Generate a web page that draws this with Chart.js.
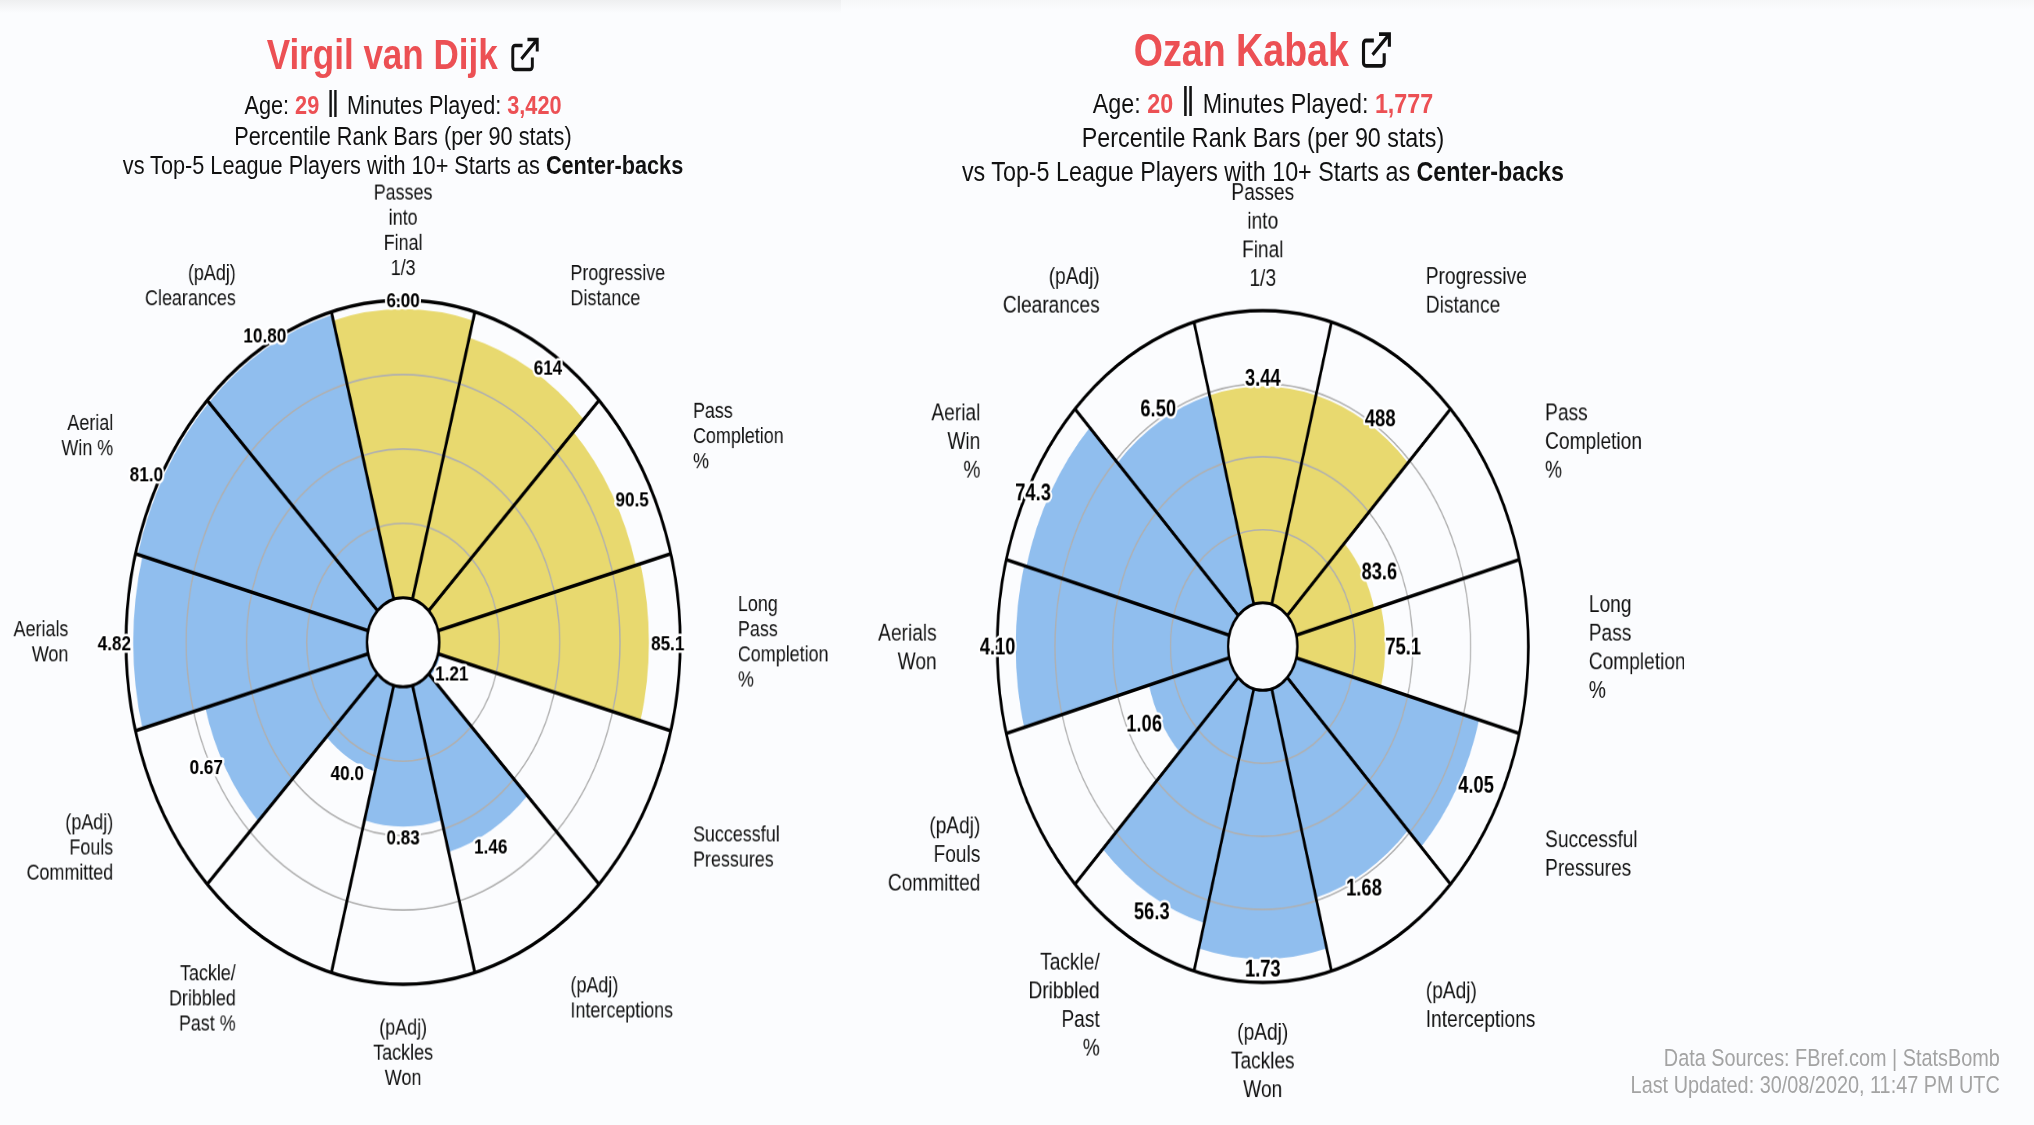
<!DOCTYPE html>
<html>
<head>
<meta charset="utf-8">
<title>Percentile Rank Bars</title>
<script src="https://cdn.jsdelivr.net/npm/chart.js@4"></script>
<style>
html, body { margin: 0; width: 2034px; height: 1125px; overflow: hidden; background: #fbfcfe; }
body { position: relative; font-family: "Liberation Sans", Arial, sans-serif; color: #111; }
canvas { position: absolute; transform-origin: 0 0; filter: blur(.4px); }
.topband { position: absolute; left: 0; top: 0; width: 841px; height: 13px; background: linear-gradient(#eeeff0, #fbfcfe); }
.topband.rest { left: 841px; width: 1193px; height: 10px; background: linear-gradient(#f6f7f8, #fbfcfe); }
.line { position: absolute; white-space: nowrap; transform: translate(-50%, -50%) scaleX(var(--sx)); filter: blur(.3px); }
.red { color: #ec5054; }
.bars { font-size: 1.4em; line-height: 1; vertical-align: -3px; margin: 0 2px; }
.title { font-weight: bold; color: #ec5054; display: flex; align-items: center; gap: 15px; }
.title svg { display: block; }
.foot { position: absolute; right: 34px; text-align: right; white-space: nowrap; color: #a3a3a3; font-size: 24.5px; transform-origin: 100% 50%; transform: translateY(-50%) scaleX(.81); filter: blur(.3px); }
</style>
</head>
<body>
<div class="topband"></div>
<div class="topband rest"></div>

<div class="line title" style="--sx:.815;left:403px;top:54px;font-size:43px">Virgil van Dijk
  <svg width="36" height="36" viewBox="0 0 24 24" fill="none" stroke="#111" stroke-width="2.4"><path d="M18 14v6a2 2 0 0 1-2 2H4a2 2 0 0 1-2-2V8a2 2 0 0 1 2-2h6"/><path d="M9 15 21 3M14 2h8v8"/></svg>
</div>
<div class="line" style="--sx:.815;left:403px;top:105px;font-size:26.6px">Age: <b class="red">29</b> <span class="bars">‖</span> Minutes Played: <b class="red">3,420</b></div>
<div class="line" style="--sx:.815;left:403px;top:136px;font-size:26.6px">Percentile Rank Bars (per 90 stats)</div>
<div class="line" style="--sx:.815;left:403px;top:165px;font-size:26.6px">vs Top-5 League Players with 10+ Starts as <b>Center-backs</b></div>

<div class="line title" style="--sx:.817;left:1263px;top:50px;font-size:46px">Ozan Kabak
  <svg width="38" height="38" viewBox="0 0 24 24" fill="none" stroke="#111" stroke-width="2.4"><path d="M18 14v6a2 2 0 0 1-2 2H4a2 2 0 0 1-2-2V8a2 2 0 0 1 2-2h6"/><path d="M9 15 21 3M14 2h8v8"/></svg>
</div>
<div class="line" style="--sx:.817;left:1263px;top:103px;font-size:28.5px">Age: <b class="red">20</b> <span class="bars">‖</span> Minutes Played: <b class="red">1,777</b></div>
<div class="line" style="--sx:.817;left:1263px;top:137px;font-size:28.5px">Percentile Rank Bars (per 90 stats)</div>
<div class="line" style="--sx:.817;left:1263px;top:171px;font-size:28.5px">vs Top-5 League Players with 10+ Starts as <b>Center-backs</b></div>

<canvas id="vvdChart" width="1080" height="1080"></canvas>
<canvas id="kabakChart" width="1080" height="1080"></canvas>

<div class="foot" style="top:1058px">Data Sources: FBref.com | StatsBomb</div>
<div class="foot" style="top:1085px">Last Updated: 30/08/2020, 11:47 PM UTC</div>

<script>
// ---------------- DATA ----------------

const vvdLabels = [
    ["Passes", "into", "Final", "1/3"],
    ["Progressive", "Distance"],
    ["Pass", "Completion", "%"],
    ["Long", "Pass", "Completion", "%"],
    ["Successful", "Pressures"],
    ["(pAdj)", "Interceptions"],
    ["(pAdj)", "Tackles", "Won"],
    ["Tackle/", "Dribbled", "Past %"],
    ["(pAdj)", "Fouls", "Committed"],
    ["Aerials", "Won"],
    ["Aerial", "Win %"],
    ["(pAdj)", "Clearances"]
];
const vvdPercentiles = [97, 91, 85, 87, 1, 58, 47, 30, 70, 97, 99, 99];
const vvdValues = ["6.00", "614", "90.5", "85.1", "1.21", "1.46", "0.83", "40.0", "0.67", "4.82", "81.0", "10.80"];

const kabakLabels = [
    ["Passes", "into", "Final", "1/3"],
    ["Progressive", "Distance"],
    ["Pass", "Completion", "%"],
    ["Long", "Pass", "Completion", "%"],
    ["Successful", "Pressures"],
    ["(pAdj)", "Interceptions"],
    ["(pAdj)", "Tackles", "Won"],
    ["Tackle/", "Dribbled", "Past", "%"],
    ["(pAdj)", "Fouls", "Committed"],
    ["Aerials", "Won"],
    ["Aerial", "Win", "%"],
    ["(pAdj)", "Clearances"]
];
const kabakPercentiles = [74, 74, 35, 38, 82, 74, 92, 83, 36, 92, 91, 74];
const kabakValues = ["3.44", "488", "83.6", "75.1", "4.05", "1.68", "1.73", "56.3", "1.06", "4.10", "74.3", "6.50"];

const gridTicks = [25, 50, 75, 100];
const passingCount = 4; // first four wedges are the passing stats

// value text does not sit exactly on the wedge centre in the original
const valueNudgeDeg = [0, 3, 3, 0, -3, 2, 0, -2, 3, 0, -2, 1];

const YELLOW = "#e8d96f";
const BLUE = "#90beee";
const PAGE_BG = "#fbfcfe";
const HOLE_MIN = -15; // leaves the white hole in the middle

// ---------------- TEXT + HOLE PLUGIN ----------------

const wedgeText = {
    id: "wedgeText",
    afterDraw(chart, args, opts) {
        const ctx = chart.ctx;
        const r = chart.scales.r;
        const halfWedge = Math.PI / 12;

        // hole
        ctx.save();
        ctx.beginPath();
        ctx.arc(r.xCenter, r.yCenter, r.getDistanceFromCenterForValue(0), 0, Math.PI * 2);
        ctx.fillStyle = PAGE_BG;
        ctx.fill();
        ctx.lineWidth = 3;
        ctx.strokeStyle = "#000";
        ctx.stroke();

        // stat names round the outside
        ctx.fillStyle = "#111";
        ctx.textBaseline = "middle";
        ctx.font = opts.labelSize + "px 'Liberation Sans'";
        chart.data.labels.forEach((lines, i) => {
            const far = r.drawingArea * opts.labelDist;
            const pos = r.getPointPosition(i, far, halfWedge);
            const dx = pos.x - r.xCenter;
            const dy = pos.y - r.yCenter;
            ctx.textAlign = Math.abs(dx) < 1 ? "center" : (dx > 0 ? "left" : "right");
            const drop = opts.labelShift + opts.labelTilt * dy / far;
            const top = pos.y + drop - (lines.length - 1) * opts.lineHeight / 2;
            lines.forEach((line, j) => ctx.fillText(line, pos.x, top + j * opts.lineHeight));
        });

        // raw values with a white halo
        ctx.textAlign = "center";
        ctx.font = "bold " + opts.valueSize + "px 'Liberation Sans'";
        ctx.lineJoin = "round";
        ctx.lineWidth = 5;
        ctx.strokeStyle = "#fff";
        ctx.fillStyle = "#000";
        opts.values.forEach((text, i) => {
            const s = Math.sin(i * Math.PI / 6);
            const gap = r.drawingArea * (0.028 + 0.04 * s * s);
            const dist = r.getDistanceFromCenterForValue(chart.data.datasets[0].data[i]) + gap;
            const nudge = valueNudgeDeg[i] * Math.PI / 180;
            const pos = r.getPointPosition(i, dist, halfWedge + nudge);
            ctx.strokeText(text, pos.x, pos.y + 2);
            ctx.fillText(text, pos.x, pos.y + 2);
        });
        ctx.restore();
    }
};

// ---------------- CHARTS ----------------

function drawPlayer(id, labels, percentiles, values, place) {
    const canvas = document.getElementById(id);
    canvas.style.left = (place.cx - 540 * place.sx) + "px";
    canvas.style.top = (place.cy - 540 * place.sy) + "px";
    canvas.style.transform = "scale(" + place.sx + "," + place.sy + ")";

    new Chart(canvas, {
        type: "polarArea",
        plugins: [wedgeText],
        data: {
            labels: labels,
            datasets: [{
                data: percentiles,
                backgroundColor: percentiles.map((p, i) => i < passingCount ? YELLOW : BLUE),
                borderWidth: 0
            }]
        },
        options: {
            responsive: false,
            animation: false,
            layout: { padding: 200 },
            plugins: {
                legend: { display: false },
                tooltip: { enabled: false },
                wedgeText: {
                    values: values,
                    labelDist: place.labelDist,
                    labelShift: place.labelShift,
                    labelTilt: place.labelTilt,
                    labelSize: place.labelSize,
                    lineHeight: place.lineHeight,
                    valueSize: place.valueSize
                }
            },
            scales: {
                r: {
                    min: HOLE_MIN,
                    max: 100,
                    startAngle: -15,
                    afterBuildTicks: (scale) => {
                        scale.ticks = gridTicks.map((v) => ({ value: v }));
                    },
                    ticks: { display: false },
                    grid: {
                        z: 1,
                        circular: true,
                        color: (c) => c.tick.value === 100 ? "#000" : "#b0b0b0",
                        lineWidth: (c) => c.tick.value === 100 ? 3.5 : 1.6
                    },
                    angleLines: { display: true, color: "#000", lineWidth: 3.5 },
                    pointLabels: { display: false }
                }
            }
        }
    });
}

drawPlayer("vvdChart", vvdLabels, vvdPercentiles, vvdValues, {
    cx: 403, cy: 642.5, sx: 0.815, sy: 1.006,
    labelDist: 1.208, labelShift: 0.3, labelTilt: -1.7, labelSize: 22, lineHeight: 25, valueSize: 21
});

drawPlayer("kabakChart", kabakLabels, kabakPercentiles, kabakValues, {
    cx: 1263, cy: 647, sx: 0.781, sy: 0.988,
    labelDist: 1.228, labelShift: 2.2, labelTilt: 0.2, labelSize: 24.5, lineHeight: 29, valueSize: 23.5
});
</script>
</body>
</html>
